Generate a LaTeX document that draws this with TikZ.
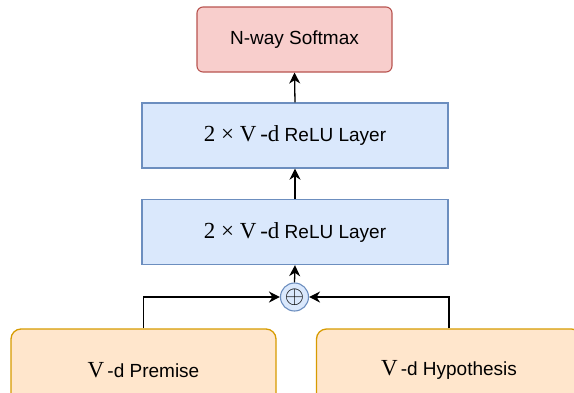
\documentclass[tikz,border=0pt]{standalone}
\usepackage{fontspec}
\setmainfont{Liberation Sans}
\newfontfamily\serifpart{Liberation Serif}
\usetikzlibrary{arrows.meta,positioning}

\definecolor{softfill}{HTML}{F8CECC}
\definecolor{softline}{HTML}{B85450}
\definecolor{relufill}{HTML}{DAE8FC}
\definecolor{reluline}{HTML}{6C8EBF}
\definecolor{inpfill}{HTML}{FFE6CC}
\definecolor{inpline}{HTML}{D79B00}

\tikzset{
    layerbox/.style={draw=reluline, fill=relufill, line width=1.4pt, inner sep=0pt,
        minimum width=306pt, minimum height=65pt,
        font=\fontsize{19}{22}\selectfont},
    outbox/.style={draw=softline, fill=softfill, line width=1.1pt, rounded corners=6pt,
        inner sep=0pt, minimum width=195pt, minimum height=65pt,
        font=\fontsize{19}{22}\selectfont},
    inbox/.style={draw=inpline, fill=inpfill, line width=1.3pt, rounded corners=10pt,
        inner sep=0pt, minimum width=265pt, minimum height=82pt,
        font=\fontsize{19}{22}\selectfont},
    sumnode/.style={circle, draw=reluline, fill=relufill, line width=1.1pt,
        inner sep=0pt, minimum size=28pt},
    flow/.style={-{Stealth[length=11pt,width=11pt,inset=3.5pt]}, line width=1.3pt}
}
\newcommand{\serifbit}[1]{{\serifpart\fontsize{23}{24}\selectfont #1}}

\begin{document}
\begin{tikzpicture}[x=1pt,y=-1pt]
    \useasboundingbox (0,0) rectangle (574,392);
    \clip (0,0) rectangle (574,392);

    % Output
    \node[outbox] (softmax) at (294.5,39.5) {N-way Softmax};

    % Hidden layers
    \node[layerbox] (relu1) at (295,135.5) {\serifbit{2 × V\,-d} ReLU Layer};
    \node[layerbox] (relu2) at (295,232) {\serifbit{2 × V\,-d} ReLU Layer};

    % Sum
    \node[sumnode] (sum) at (294.5,297) {\fontsize{24}{24}\selectfont$\oplus$};

    % Inputs
    \node[inbox] (premise) at (143.5,370) {\serifbit{V}\,-d Premise};
    \node[inbox] (hypo) at (449,370) {\serifbit{V}\,-d Hypothesis};

    % Arrows
    \draw[flow] (relu1.north) -- (softmax.south);
    \draw[flow] (relu2.north) -- (relu1.south);
    \draw[flow] (sum.north) -- (relu2.south);
    \draw[flow] (premise.north) |- (sum.west);
    \draw[flow] (hypo.north) |- (sum.east);
\end{tikzpicture}
\end{document}
